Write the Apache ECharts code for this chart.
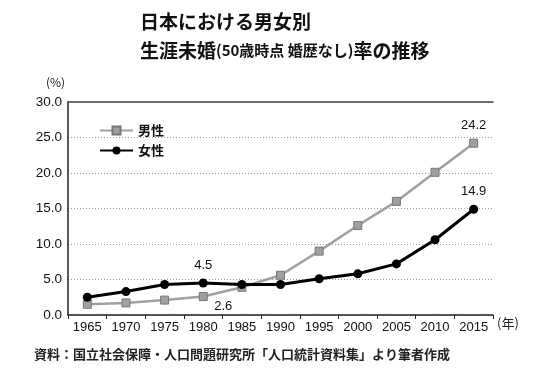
<!DOCTYPE html>
<html><head><meta charset="utf-8">
<script src="https://cdn.jsdelivr.net/npm/echarts@6/dist/echarts.min.js"></script>
<style>html,body{margin:0;padding:0;background:#fff}#c{width:540px;height:384px}</style>
</head><body><div id="c"></div>
<script>
const years = ['1965','1970','1975','1980','1985','1990','1995','2000','2005','2010','2015'];
const male = [1.5, 1.7, 2.1, 2.6, 3.9, 5.6, 9.0, 12.6, 16.0, 20.1, 24.2];
const female = [2.5, 3.3, 4.3, 4.5, 4.3, 4.3, 5.1, 5.8, 7.2, 10.6, 14.9];
const yTicks = [0, 5, 10, 15, 20, 25, 30];
const F = '"Noto Sans CJK JP", "Noto Sans", sans-serif';
const N = '"Liberation Sans", "Noto Sans", sans-serif';
const chart = echarts.init(document.getElementById('c'));
chart.setOption({
  animation: false,
  textStyle: { fontFamily: F },
  title: [{
    text: '{a|日本における男女別}\n{a|生涯未婚}{b|(50歳時点 婚歴なし)}{a|率の推移}',
    left: 135, top: 2,
    textStyle: {
      rich: {
        a: { fontSize: 19, fontWeight: 'bold', color: '#111', fontFamily: F, lineHeight: 29 },
        b: { fontSize: 15, fontWeight: 'bold', color: '#111', fontFamily: F, lineHeight: 29 }
      }
    }
  }],
  graphic: [
    { type: 'text', left: 46, top: 76, style: { text: '(%)', font: '12px ' + F, fill: '#222' } },
    { type: 'text', left: 497, top: 317, style: { text: '(年)', font: '13px ' + F, fill: '#222' } },
    { type: 'text', left: 34, top: 348, style: { text: '資料：国立社会保障・人口問題研究所「人口統計資料集」より筆者作成', font: 'bold 13px ' + F, fill: '#222' } }
  ],
  legend: {
    orient: 'vertical', left: 94, top: 119, itemGap: 7, itemWidth: 33, itemHeight: 10,
    textStyle: { fontSize: 13, fontWeight: 'bold', color: '#111', fontFamily: F },
    data: ['男性', '女性']
  },
  grid: { left: 68, right: 47, top: 102, bottom: 69 },
  xAxis: [{
    type: 'category', data: years, boundaryGap: true,
    axisLine: { lineStyle: { color: '#222', width: 1.5 } },
    axisTick: { show: true, length: 4, interval: 0, lineStyle: { color: '#222' } },
    axisLabel: { color: '#111', fontSize: 13, margin: 6, fontFamily: N, interval: 0 }
  }, {
    type: 'category', data: years, position: 'top',
    axisLine: { show: true, lineStyle: { color: '#444', width: 1.5 } },
    axisTick: { show: false }, axisLabel: { show: false }
  }],
  yAxis: {
    type: 'value', min: 0, max: 30, interval: 5,
    axisLine: { show: true, lineStyle: { color: '#222', width: 1.5 } },
    axisTick: { show: false },
    axisLabel: { color: '#111', fontSize: 13.5, margin: 6, fontFamily: N, formatter: v => v.toFixed(1) },
    splitLine: { lineStyle: { color: '#999', type: [1, 2], width: 1 } }
  },
  series: [{
    name: '男性', type: 'line', data: male,
    symbol: 'rect', symbolSize: 8,
    lineStyle: { color: '#a0a0a0', width: 2.5 },
    itemStyle: { color: '#a0a0a0', borderColor: '#777', borderWidth: 1 },
    label: {
      show: true, color: '#111', fontSize: 13, fontFamily: N,
      formatter: p => (p.dataIndex === 3 || p.dataIndex === 10) ? p.value.toFixed(1) : '',
      position: 'top', distance: 7
    },
    labelLayout: p => p.dataIndex === 3 ? { dx: 20, dy: 28 } : {},
    z: 2
  }, {
    name: '女性', type: 'line', data: female,
    symbol: 'circle', symbolSize: 9,
    lineStyle: { color: '#000', width: 3 },
    itemStyle: { color: '#000' },
    label: {
      show: true, color: '#111', fontSize: 13, fontFamily: N,
      formatter: p => (p.dataIndex === 3 || p.dataIndex === 10) ? p.value.toFixed(1) : '',
      position: 'top', distance: 7
    },
    z: 3
  }]
});
</script></body></html>
